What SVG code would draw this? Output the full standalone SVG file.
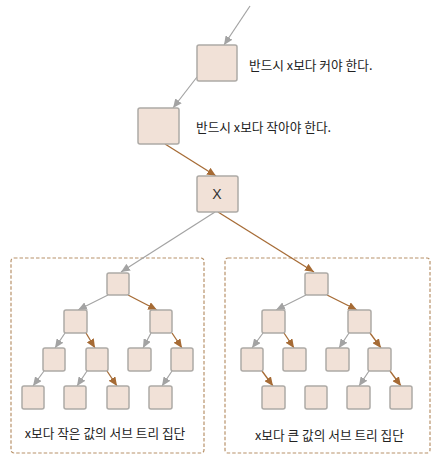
<svg xmlns="http://www.w3.org/2000/svg" width="439" height="460" viewBox="0 0 439 460">
<style>
.n{fill:#f1e1d7;stroke:#adaaa6;stroke-width:1.5}
.g{stroke:#a3a3a3;stroke-width:1.2;fill:none;marker-end:url(#ag)}
.b{stroke:#a66b35;stroke-width:1.3;fill:none;marker-end:url(#ab)}
.t{font-family:"Noto Sans CJK KR","Noto Sans",sans-serif;font-size:12.7px;fill:#222}
.box{fill:none;stroke:#b8926a;stroke-width:1.2;stroke-dasharray:3.5 2}
</style>
<defs>
<marker id="ag" markerUnits="userSpaceOnUse" markerWidth="10" markerHeight="8" refX="9" refY="4" orient="auto"><path d="M0,0 L9,4 L0,8 Z" fill="#a3a3a3"/></marker>
<marker id="ab" markerUnits="userSpaceOnUse" markerWidth="10" markerHeight="8" refX="9" refY="4" orient="auto"><path d="M0,0 L9,4 L0,8 Z" fill="#a66b35"/></marker>
</defs>
<g id="boxes">
<rect class="box" x="11" y="258" width="193" height="195" rx="3"/>
<rect class="box" x="225" y="258" width="205" height="195" rx="3"/>
</g>
<g id="connectors">
<line class="g" x1="250" y1="6" x2="224" y2="45"/>
<line class="g" x1="197" y1="77" x2="173" y2="108"/>
<line class="b" x1="165" y1="144" x2="216" y2="176"/>
<line class="g" x1="215" y1="212" x2="121" y2="272"/>
<line class="b" x1="218" y1="212" x2="314" y2="272"/>
<line class="g" x1="108" y1="295" x2="78" y2="310"/>
<line class="b" x1="128" y1="295" x2="157" y2="310"/>
<line class="g" x1="65" y1="333" x2="55" y2="348"/>
<line class="b" x1="86" y1="333" x2="95" y2="348"/>
<line class="g" x1="151" y1="333" x2="143" y2="348"/>
<line class="b" x1="172" y1="333" x2="182" y2="348"/>
<line class="g" x1="44" y1="371" x2="33" y2="386"/>
<line class="g" x1="87" y1="371" x2="77" y2="386"/>
<line class="b" x1="107" y1="371" x2="117" y2="386"/>
<line class="g" x1="172" y1="371" x2="162" y2="386"/>
<line class="g" x1="306" y1="295" x2="276" y2="310"/>
<line class="b" x1="327" y1="295" x2="357" y2="310"/>
<line class="g" x1="263" y1="333" x2="252" y2="348"/>
<line class="b" x1="284" y1="333" x2="294" y2="348"/>
<line class="g" x1="349" y1="333" x2="339" y2="348"/>
<line class="b" x1="370" y1="333" x2="381" y2="348"/>
<line class="b" x1="262" y1="371" x2="273" y2="386"/>
<line class="g" x1="369" y1="371" x2="359" y2="386"/>
<line class="b" x1="390" y1="371" x2="401" y2="386"/>
</g>
<g id="n-top"><rect class="n" x="197" y="45" width="40" height="36" rx="2"/></g>
<g id="n-second"><rect class="n" x="138" y="108" width="41" height="36" rx="2"/></g>
<g id="n-x"><rect class="n" x="197" y="176" width="41" height="36" rx="2"/><text x="217" y="199" text-anchor="middle" font-family="Liberation Sans, sans-serif" font-size="14" fill="#333">X</text></g>
<g id="label-top"><text class="t" x="249" y="70">반드시 x보다 커야 한다.</text></g>
<g id="label-second"><text class="t" x="196" y="132">반드시 x보다 작아야 한다.</text></g>
<g id="left-tree">
<g id="l0"><rect class="n" x="107" y="273" width="22" height="22" rx="2"/></g>
<g id="l1a"><rect class="n" x="64" y="310" width="23" height="23" rx="2"/></g>
<g id="l1b"><rect class="n" x="150" y="310" width="22" height="23" rx="2"/></g>
<g id="l2a"><rect class="n" x="43" y="348" width="22" height="23" rx="2"/></g>
<g id="l2b"><rect class="n" x="86" y="348" width="22" height="23" rx="2"/></g>
<g id="l2c"><rect class="n" x="128" y="348" width="23" height="23" rx="2"/></g>
<g id="l2d"><rect class="n" x="171" y="348" width="22" height="23" rx="2"/></g>
<g id="l3a"><rect class="n" x="22" y="386" width="22" height="23" rx="2"/></g>
<g id="l3b"><rect class="n" x="64" y="386" width="22" height="23" rx="2"/></g>
<g id="l3c"><rect class="n" x="107" y="386" width="22" height="23" rx="2"/></g>
<g id="l3d"><rect class="n" x="149" y="386" width="23" height="23" rx="2"/></g>
<text class="t" x="105" y="438" text-anchor="middle">x보다 작은 값의 서브 트리 집단</text>
</g>
<g id="right-tree">
<g id="r0"><rect class="n" x="305" y="273" width="23" height="22" rx="2"/></g>
<g id="r1a"><rect class="n" x="262" y="310" width="23" height="23" rx="2"/></g>
<g id="r1b"><rect class="n" x="348" y="310" width="23" height="23" rx="2"/></g>
<g id="r2a"><rect class="n" x="241" y="348" width="22" height="23" rx="2"/></g>
<g id="r2b"><rect class="n" x="283" y="348" width="23" height="23" rx="2"/></g>
<g id="r2c"><rect class="n" x="326" y="348" width="23" height="23" rx="2"/></g>
<g id="r2d"><rect class="n" x="368" y="348" width="23" height="23" rx="2"/></g>
<g id="r3a"><rect class="n" x="262" y="386" width="23" height="23" rx="2"/></g>
<g id="r3b"><rect class="n" x="305" y="386" width="22" height="23" rx="2"/></g>
<g id="r3c"><rect class="n" x="347" y="386" width="23" height="23" rx="2"/></g>
<g id="r3d"><rect class="n" x="390" y="386" width="22" height="23" rx="2"/></g>
<text class="t" x="329.5" y="440" text-anchor="middle">x보다 큰 값의 서브 트리 집단</text>
</g>
</svg>
